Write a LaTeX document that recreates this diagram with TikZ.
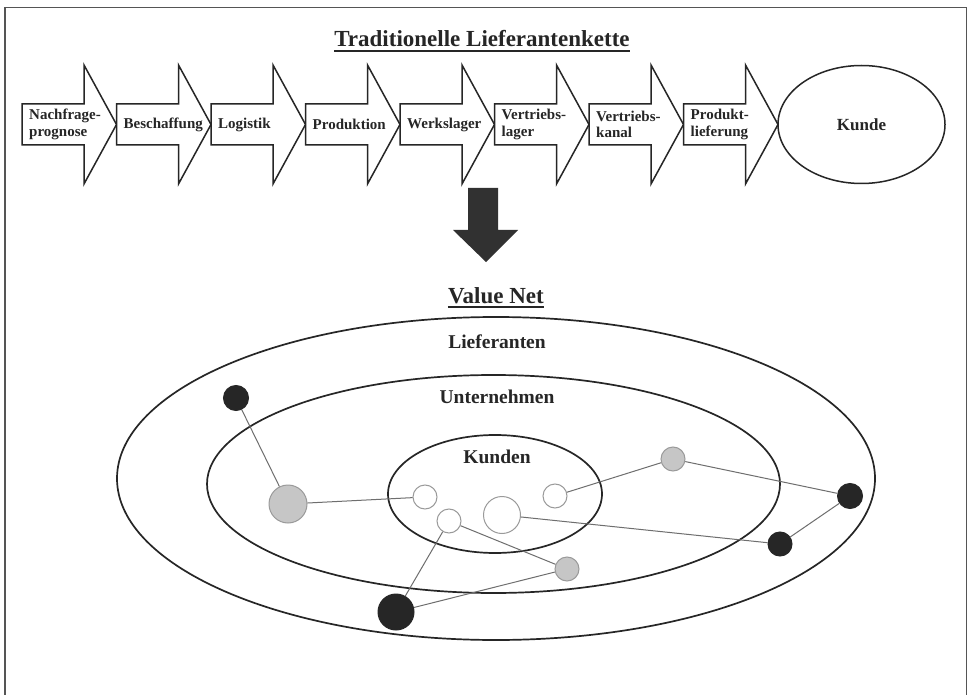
\documentclass[tikz,border=0pt]{standalone}
\usepackage{fontspec}
\setmainfont{Liberation Serif}
\usetikzlibrary{shapes.geometric}

\definecolor{ink}{HTML}{262626}
\definecolor{edgegray}{HTML}{6E6E6E}
\definecolor{nodegray}{HTML}{C6C6C6}
\definecolor{rimgray}{HTML}{9A9A9A}
\definecolor{framegray}{HTML}{555555}

\tikzset{
  chainarrow/.style={draw=ink, line width=1.5pt, fill=white, line join=miter},
  chaintext/.style={font=\bfseries\fontsize{15}{14}\selectfont, align=left, inner sep=0pt, anchor=west, text=ink},
  headline/.style={font=\bfseries\fontsize{23}{26}\selectfont, inner sep=0pt, anchor=base, text=ink},
  ringlabel/.style={font=\bfseries\fontsize{19.5}{22}\selectfont, inner sep=0pt, anchor=base, text=ink},
  ring/.style={draw=ink, line width=1.7pt, ellipse, inner sep=0pt},
  link/.style={draw=edgegray, line width=1pt},
  whitedot/.style={circle, draw=rimgray, line width=1pt, fill=white, inner sep=0pt},
  graydot/.style={circle, draw=rimgray, line width=1pt, fill=nodegray, inner sep=0pt},
  blackdot/.style={circle, draw=ink, line width=1pt, fill=ink, inner sep=0pt},
}

\begin{document}
\begin{tikzpicture}[x=1pt, y=-1pt]
  \useasboundingbox (0,0) rectangle (969,695);
  \fill[white] (0,0) rectangle (969,695);
  % outer frame (open at the bottom)
  \draw[framegray, line width=1.5pt] (5,700) -- (5,7.5) -- (966.5,7.5) -- (966.5,700);

  % ---------- traditional supply chain ----------
  \node[headline] (title) at (482,47) {Traditionelle Lieferantenkette};
  \draw[ink, line width=1.6pt] ([yshift=-4pt]title.base west) -- ([yshift=-4pt]title.base east);

  \foreach \i/\txt in {0/{Nachfrage-\\[2.5pt]prognose}, 1/Beschaffung, 2/Logistik, 3/Produktion,
                       4/Werkslager, 5/{Vertriebs-\\[2.5pt]lager}, 6/{Vertriebs-\\[2.5pt]kanal}, 7/{Produkt-\\[2.5pt]lieferung}} {
    \pgfmathsetmacro{\L}{22+94.5*\i}
    \draw[chainarrow] (\L,104) -- ({\L+62},104) -- ({\L+62},65) -- ({\L+94.5},124.5)
      -- ({\L+62},184) -- ({\L+62},145) -- (\L,145) -- cycle;
    \node[chaintext] (step\i) at ({\L+7},124.5) {\txt};
  }
  \node[draw=ink, line width=1.5pt, ellipse, minimum width=167pt, minimum height=118pt,
        inner sep=0pt, font=\bfseries\fontsize{17}{20}\selectfont, text=ink] (kunde) at (861.5,124.5) {Kunde};

  % ---------- transition arrow ----------
  \fill[ink!95] (468,188) -- (498,188) -- (498,230) -- (518,230) -- (486,262) -- (453,230) -- (468,230) -- cycle;

  % ---------- value net ----------
  \node[headline] (vnet) at (496,303) {Value Net};
  \draw[ink, line width=1.6pt] ([yshift=-4pt]vnet.base west) -- ([yshift=-4pt]vnet.base east);

  \node[ring, minimum width=758pt, minimum height=323pt] (outer) at (496,478.5) {};
  \node[ring, minimum width=573pt, minimum height=218pt] (middle) at (493.5,484) {};
  \node[ring, minimum width=214pt, minimum height=118pt] (inner) at (495,494) {};

  \node[ringlabel] (lief) at (497,348) {Lieferanten};
  \node[ringlabel] (unt) at (497,403) {Unternehmen};
  \node[ringlabel] (kd) at (497,463) {Kunden};

  % participants
  \node[blackdot, minimum size=25pt] (b1) at (236,398) {};
  \node[graydot,  minimum size=38pt] (g1) at (288,504) {};
  \node[whitedot, minimum size=24pt] (w1) at (425,497) {};
  \node[whitedot, minimum size=24pt] (w2) at (449,521) {};
  \node[whitedot, minimum size=37pt] (w3) at (502,515) {};
  \node[whitedot, minimum size=24pt] (w4) at (555,496) {};
  \node[graydot,  minimum size=24pt] (g2) at (567,569) {};
  \node[blackdot, minimum size=36pt] (b2) at (396,612) {};
  \node[graydot,  minimum size=24pt] (g3) at (673,459) {};
  \node[blackdot, minimum size=25pt] (b3) at (850,496) {};
  \node[blackdot, minimum size=24pt] (b4) at (780,544) {};

  % relations
  \draw[link] (b1) -- (g1);
  \draw[link] (g1) -- (w1);
  \draw[link] (w2) -- (b2);
  \draw[link] (w2) -- (g2);
  \draw[link] (g2) -- (b2);
  \draw[link] (w3) -- (b4);
  \draw[link] (w4) -- (g3);
  \draw[link] (g3) -- (b3);
  \draw[link] (b3) -- (b4);
\end{tikzpicture}
\end{document}
